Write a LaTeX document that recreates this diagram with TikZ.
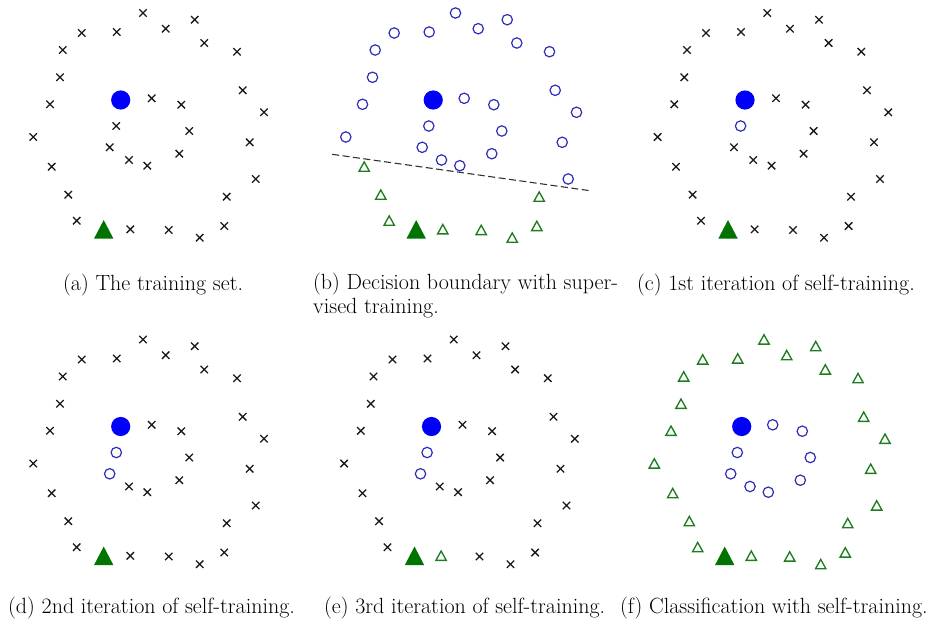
\documentclass[tikz,border=0pt]{standalone}
\usetikzlibrary{calc}
\definecolor{dotblue}{RGB}{0,0,250}
\definecolor{cblue}{RGB}{45,45,185}
\definecolor{tgreen}{RGB}{0,115,0}
\definecolor{ogreen}{RGB}{30,125,30}
\definecolor{xblack}{RGB}{25,25,25}
\tikzset{
  xm/.pic={\draw[xblack,line width=1.3pt] (-3.7,-3.7)--(3.7,3.7) (-3.7,3.7)--(3.7,-3.7);},
  oc/.pic={\draw[cblue,line width=1.2pt] (0,0) circle (5.2);},
  ot/.pic={\draw[ogreen,line width=1.35pt,line join=miter] (-5.2,4.6)--(5.2,4.6)--(0,-4.8)--cycle;},
  bigdot/.pic={\fill[dotblue] (0,0) circle (9.6);},
  bigtri/.pic={\fill[tgreen] (-9.7,9.3)--(9.7,9.3)--(0,-9.3)--cycle;},
  captext/.style={anchor=west,inner sep=0pt,text=black,font=\fontsize{22}{23.5}\selectfont},
  boundary/.style={dash pattern=on 7pt off 3.5pt,line width=1.1pt,black!80},
}
\def\ptsOU{143/13,81.7/33,116.7/32,165.7/28.7,194.7/19.7,62.7/50,204.3/43,237/51.7,60/77.3,242.7/90.3,50/104.3,264/112.3,33.3/137,249.7/142.3,255.7/179}
\def\ptsOL{51.7/166.7,68.3/194.7,226.7/196.7,76.7/220.7,168.7/230,199.7/237.7,224.3/226}
\def\ptsIN{151.7/98.3,181.3/104.7,189.3/131,179.3/153.7,147.3/165.7,129/160}
\begin{document}
\begin{tikzpicture}[x=1pt,y=-1pt]
\useasboundingbox (0,0) rectangle (928,622);
% (a)
\begin{scope}[shift={(0,0)}]
  \foreach \x/\y in \ptsOU {\pic at (\x,\y) {xm};}
  \foreach \x/\y in \ptsOL {\pic at (\x,\y) {xm};}
  \foreach \x/\y in \ptsIN {\pic at (\x,\y) {xm};}
  \pic at (116.3,126) {xm};
  \pic at (109.7,147.3) {xm};
  \pic at (130.3,229.3) {xm};
  \pic at (120.7,100) {bigdot};
  \pic at (103.7,229.3) {bigtri};
\end{scope}
% (b)
\begin{scope}[shift={(312.5,0)}]
  \foreach \x/\y in \ptsOU {\pic at (\x,\y) {oc};}
  \foreach \x/\y in \ptsOL {\pic at (\x,\y) {ot};}
  \foreach \x/\y in \ptsIN {\pic at (\x,\y) {oc};}
  \pic at (116.3,126) {oc};
  \pic at (109.7,147.3) {oc};
  \pic at (130.3,229.3) {ot};
  \pic at (120.7,100) {bigdot};
  \pic at (103.7,229.3) {bigtri};
  \coordinate (bd1) at (19.7,154.3);
  \coordinate (bd2) at (277.4,190.7);
  \draw[boundary] (bd1) -- (bd2);
\end{scope}
% (c)
\begin{scope}[shift={(624.3,0)}]
  \foreach \x/\y in \ptsOU {\pic at (\x,\y) {xm};}
  \foreach \x/\y in \ptsOL {\pic at (\x,\y) {xm};}
  \foreach \x/\y in \ptsIN {\pic at (\x,\y) {xm};}
  \pic at (116.3,126) {oc};
  \pic at (109.7,147.3) {xm};
  \pic at (130.3,229.3) {xm};
  \pic at (120.7,100) {bigdot};
  \pic at (103.7,229.3) {bigtri};
\end{scope}
% (d)
\begin{scope}[shift={(0,326.5)}]
  \foreach \x/\y in \ptsOU {\pic at (\x,\y) {xm};}
  \foreach \x/\y in \ptsOL {\pic at (\x,\y) {xm};}
  \foreach \x/\y in \ptsIN {\pic at (\x,\y) {xm};}
  \pic at (116.3,126) {oc};
  \pic at (109.7,147.3) {oc};
  \pic at (130.3,229.3) {xm};
  \pic at (120.7,100) {bigdot};
  \pic at (103.7,229.3) {bigtri};
\end{scope}
% (e)
\begin{scope}[shift={(310.8,326.5)}]
  \foreach \x/\y in \ptsOU {\pic at (\x,\y) {xm};}
  \foreach \x/\y in \ptsOL {\pic at (\x,\y) {xm};}
  \foreach \x/\y in \ptsIN {\pic at (\x,\y) {xm};}
  \pic at (116.3,126) {oc};
  \pic at (109.7,147.3) {oc};
  \pic at (130.3,229.3) {ot};
  \pic at (120.7,100) {bigdot};
  \pic at (103.7,229.3) {bigtri};
\end{scope}
% (f)
\begin{scope}[shift={(621,326.5)}]
  \foreach \x/\y in \ptsOU {\pic at (\x,\y) {ot};}
  \foreach \x/\y in \ptsOL {\pic at (\x,\y) {ot};}
  \foreach \x/\y in \ptsIN {\pic at (\x,\y) {oc};}
  \pic at (116.3,126) {oc};
  \pic at (109.7,147.3) {oc};
  \pic at (130.3,229.3) {ot};
  \pic at (120.7,100) {bigdot};
  \pic at (103.7,229.3) {bigtri};
\end{scope}
% captions
\node[captext] (capa) at (63,285) {(a) The training set.};
\node[captext,anchor=north west,align=left] (capb) at (313,273) {(b) Decision boundary with super-\\vised training.};
\node[captext] (capc) at (637,285) {(c) 1st iteration of self-training.};
\node[captext] (capd) at (8,608) {(d) 2nd iteration of self-training.};
\node[captext] (cape) at (324,608) {(e) 3rd iteration of self-training.};
\node[captext] (capf) at (620,608) {(f) Classification with self-training.};
\end{tikzpicture}
\end{document}
